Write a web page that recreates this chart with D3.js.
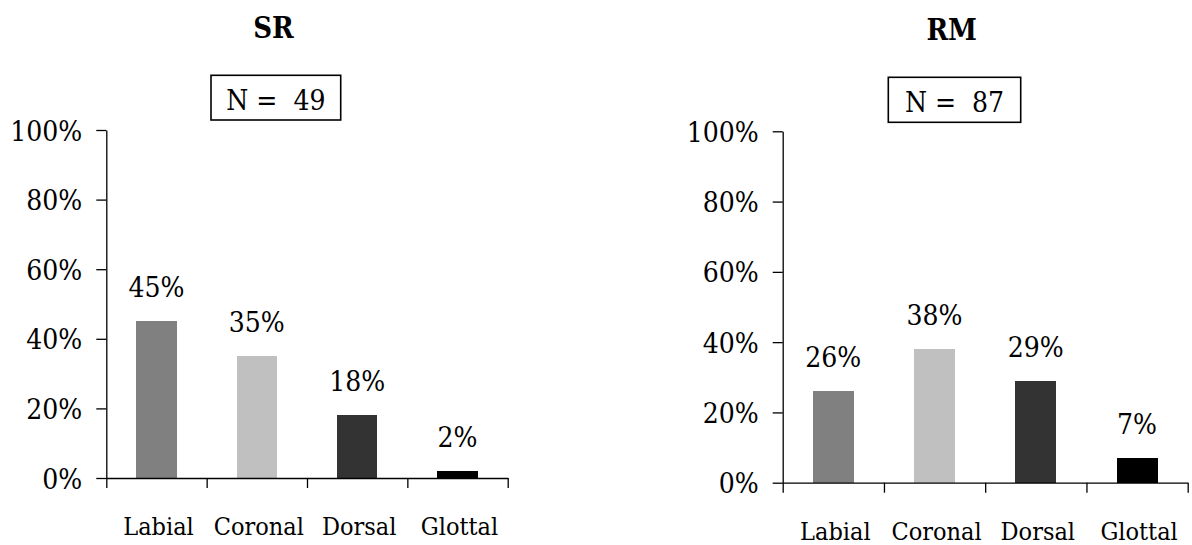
<!DOCTYPE html>
<html>
<head>
<meta charset="utf-8">
<script src="https://cdn.jsdelivr.net/npm/d3@7"></script>
<style>
  html, body { margin: 0; padding: 0; background: #fff; }
  svg { display: block; }
  svg text { font-family: "DejaVu Serif Condensed", "DejaVu Serif"; font-stretch: condensed; fill: #000; }
  .domain, .tick line { stroke: #000; stroke-width: 1.3; }
</style>
</head>
<body>
<svg id="chart" width="1192" height="545"></svg>
<script>
// Place-of-articulation shares for two groups
const panelNames = ["SR", "RM"];
const sampleSizes = [49, 87];
const categories = ["Labial", "Coronal", "Dorsal", "Glottal"];
const srValues = [45, 35, 18, 2];
const rmValues = [26, 38, 29, 7];
const yTicks = [0, 20, 40, 60, 80, 100];
const barColors = ["#808080", "#c0c0c0", "#333333", "#000000"];

const seriesValues = [srValues, rmValues];

// Frame of each panel on the page
const layouts = [
  { x0: 106.3, x1: 507.7, top: 130, bottom: 478,
    titleX: 273.5, titleY: 38,
    box: { x: 211, y: 75.3, w: 129.7, h: 44.7 }, nY: 110 },
  { x0: 782.7, x1: 1187.7, top: 131.3, bottom: 482.7,
    titleX: 951.7, titleY: 40,
    box: { x: 888.3, y: 77.3, w: 132.4, h: 45 }, nY: 111.7 }
];

const svg = d3.select("#chart");

panelNames.forEach((name, p) => {
  const L = layouts[p];
  const values = seriesValues[p];
  const g = svg.append("g");

  const x = d3.scaleBand().domain(categories).range([L.x0, L.x1]).paddingInner(0).paddingOuter(0);
  const xEdges = d3.scaleLinear().domain([0, categories.length]).range([L.x0, L.x1]);
  const y = d3.scaleLinear().domain([0, 100]).range([L.bottom, L.top]);

  // Title
  g.append("text")
    .attr("x", L.titleX).attr("y", L.titleY)
    .attr("text-anchor", "middle")
    .attr("font-weight", "bold")
    .attr("font-size", 29)
    .text(name);

  // Sample size box
  g.append("rect")
    .attr("x", L.box.x).attr("y", L.box.y)
    .attr("width", L.box.w).attr("height", L.box.h)
    .attr("fill", "#fff").attr("stroke", "#000").attr("stroke-width", 1.6);
  g.append("text")
    .attr("x", L.box.x + L.box.w / 2).attr("y", L.nY)
    .attr("text-anchor", "middle")
    .attr("font-size", 28)
    .style("white-space", "pre")
    .text("N =  " + sampleSizes[p]);

  // Bars
  const barW = x.bandwidth() * 0.405;
  g.selectAll("rect.bar")
    .data(values)
    .enter().append("rect")
    .attr("class", "bar")
    .attr("x", (d, i) => x(categories[i]) + (x.bandwidth() - barW) / 2)
    .attr("width", barW)
    .attr("y", d => y(d))
    .attr("height", d => y(0) - y(d))
    .attr("fill", (d, i) => barColors[i])
    .attr("shape-rendering", "crispEdges");

  // Value labels
  g.selectAll("text.val")
    .data(values)
    .enter().append("text")
    .attr("class", "val")
    .attr("x", (d, i) => x(categories[i]) + x.bandwidth() / 2)
    .attr("y", d => y(d) - 24)
    .attr("text-anchor", "middle")
    .attr("font-size", 28)
    .text(d => d + "%");

  // Y axis
  const yAxis = d3.axisLeft(y)
    .tickValues(yTicks)
    .tickFormat(d => d + "%")
    .tickSize(10)
    .tickSizeOuter(0)
    .tickPadding(14);
  const ya = g.append("g").attr("transform", `translate(${L.x0},0)`).call(yAxis);
  ya.attr("font-family", null).attr("font-size", null);
  ya.selectAll("text")
    .attr("font-size", 28)
    .attr("dy", "0.36em");

  // X axis with ticks at category boundaries
  const xAxis = d3.axisBottom(xEdges)
    .tickValues(d3.range(categories.length + 1))
    .tickFormat("")
    .tickSize(10)
    .tickSizeOuter(0);
  g.append("g").attr("transform", `translate(0,${L.bottom})`).call(xAxis);

  // Category labels
  g.selectAll("text.cat")
    .data(categories)
    .enter().append("text")
    .attr("class", "cat")
    .attr("x", d => x(d) + x.bandwidth() / 2 + 2)
    .attr("y", L.bottom + 57)
    .attr("text-anchor", "middle")
    .attr("font-size", 25)
    .text(d => d);
});
</script>
</body>
</html>
